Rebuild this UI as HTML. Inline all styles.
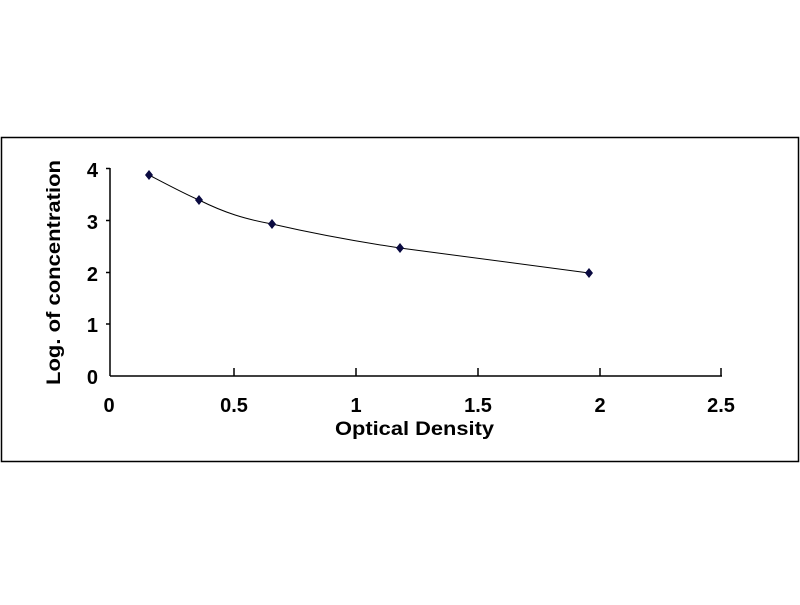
<!DOCTYPE html>
<html><head><style>body{margin:0;background:#fff}</style></head><body>
<svg width="800" height="600" xmlns="http://www.w3.org/2000/svg" font-family="Liberation Sans, sans-serif" font-weight="bold">
<rect x="1.5" y="137.5" width="797" height="324" fill="#fff" stroke="#000" stroke-width="1.5"/>
<g stroke="#000" stroke-width="1.5">
<line x1="110" y1="168" x2="110" y2="376"/>
<line x1="110" y1="376" x2="722" y2="376"/>
<line x1="106" y1="168.5" x2="110" y2="168.5"/>
<line x1="106" y1="220.5" x2="110" y2="220.5"/>
<line x1="106" y1="272.5" x2="110" y2="272.5"/>
<line x1="106" y1="324" x2="110" y2="324"/>
<line x1="234" y1="368" x2="234" y2="376"/>
<line x1="356" y1="368" x2="356" y2="376"/>
<line x1="478" y1="368" x2="478" y2="376"/>
<line x1="600" y1="368" x2="600" y2="376"/>
<line x1="721" y1="368" x2="721" y2="376"/>
</g>
<g font-size="20" text-anchor="end">
<text x="98" y="177">4</text><text x="98" y="229">3</text><text x="98" y="281">2</text><text x="98" y="332">1</text><text x="98" y="384">0</text>
</g>
<g font-size="20" text-anchor="middle">
<text x="109" y="412">0</text><text x="234" y="412">0.5</text><text x="356" y="412">1</text><text x="478" y="412">1.5</text><text x="600" y="412">2</text><text x="721" y="412">2.5</text>
</g>
<text x="335" y="435" font-size="19" textLength="159" lengthAdjust="spacingAndGlyphs">Optical Density</text>
<text transform="translate(60,385) rotate(-90)" font-size="19" textLength="225" lengthAdjust="spacingAndGlyphs">Log. of concentration</text>
<path d="M149,175 C170,186 185,194 199,200 C225,213 245,219 272,224 C320,235 360,242 400,248 C470,257 530,265 589,273" fill="none" stroke="#000" stroke-width="1"/>
<g fill="#0a0a40">
<path d="M149,170 l4,5 l-4,5 l-4,-5z"/>
<path d="M199,195 l4,5 l-4,5 l-4,-5z"/>
<path d="M272,219 l4,5 l-4,5 l-4,-5z"/>
<path d="M400,243 l4,5 l-4,5 l-4,-5z"/>
<path d="M589,268 l4,5 l-4,5 l-4,-5z"/>
</g>
</svg>
</body></html>
